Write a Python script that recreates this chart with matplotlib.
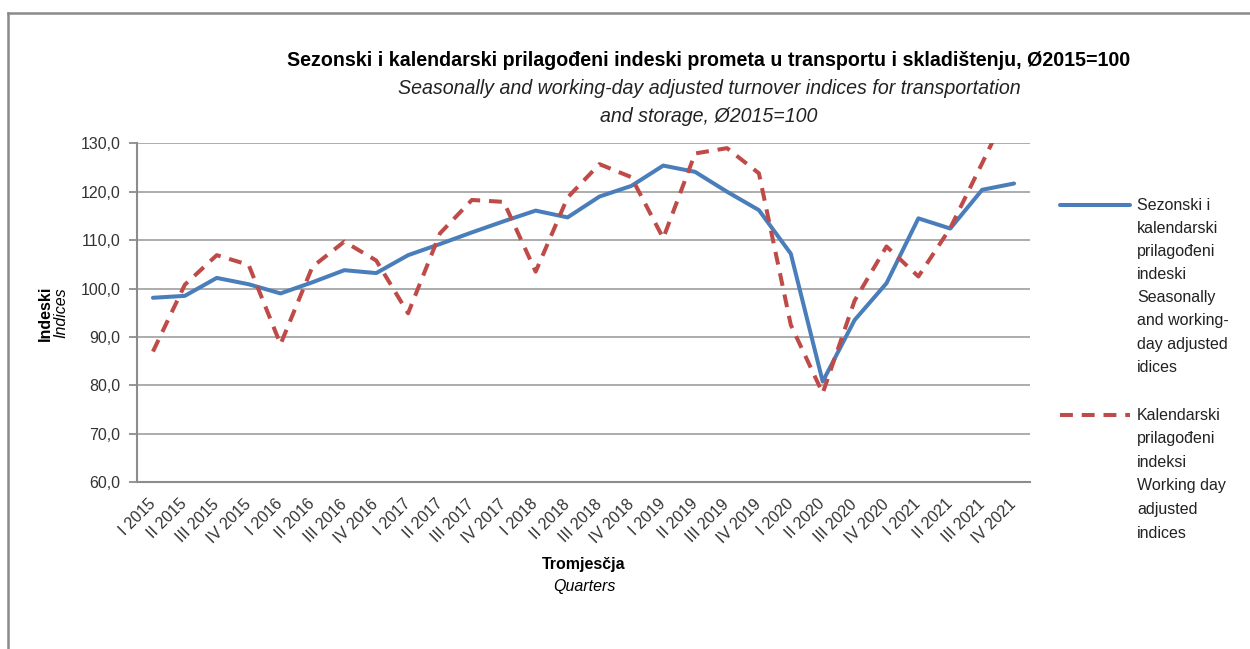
import matplotlib
matplotlib.use("Agg")
import matplotlib.pyplot as plt
from matplotlib.lines import Line2D
from matplotlib import font_manager
import numpy as np

plt.rcParams['font.family'] = ['Liberation Sans', 'DejaVu Sans']

quarters = ["I 2015", "II 2015", "III 2015", "IV 2015",
            "I 2016", "II 2016", "III 2016", "IV 2016",
            "I 2017", "II 2017", "III 2017", "IV 2017",
            "I 2018", "II 2018", "III 2018", "IV 2018",
            "I 2019", "II 2019", "III 2019", "IV 2019",
            "I 2020", "II 2020", "III 2020", "IV 2020",
            "I 2021", "II 2021", "III 2021", "IV 2021"]

seasonal = [98.1, 98.5, 102.2, 100.9,
            99.0, 101.3, 103.8, 103.2,
            106.9, 109.2, 111.6, 113.9,
            116.1, 114.7, 119.0, 121.2,
            125.4, 124.1, 120.0, 116.2,
            107.2, 80.8, 93.5, 101.1,
            114.5, 112.4, 120.4, 121.7]

working_day = [87.0, 100.8, 106.9, 104.9,
               88.5, 104.5, 109.7, 105.8,
               94.9, 111.4, 118.3, 117.9,
               103.5, 118.8, 125.7, 123.0,
               110.4, 127.9, 129.0, 123.8,
               92.5, 78.4, 97.5, 108.7,
               102.5, 112.5, 125.9, 139.5]

yticks = [60, 70, 80, 90, 100, 110, 120, 130]

legend_seasonal = ["Sezonski i", "kalendarski", "prilagođeni", "indeski",
                   "Seasonally", "and working-", "day adjusted", "idices"]
legend_working = ["Kalendarski", "prilagođeni", "indeksi",
                  "Working day", "adjusted", "indices"]

# condensed font if available
try:
    font_manager.findfont(font_manager.FontProperties(family='Liberation Sans Narrow'),
                          fallback_to_default=False)
    narrow = ['Liberation Sans Narrow', 'DejaVu Sans']
    has_narrow = True
except Exception:
    narrow = ['Liberation Sans', 'DejaVu Sans']
    has_narrow = False

title_fs = 17.2 if has_narrow else 14.1
tick_fs = 13.5 if has_narrow else 11.5
lab_fs = 14.0 if has_narrow else 11.5

W, H = 1250, 649
fig = plt.figure(figsize=(W / 100, H / 100), dpi=100)
fig.patch.set_facecolor('white')

ax_l, ax_r, ax_t, ax_b = 137, 1030, 143.3, 482.3
ax = fig.add_axes([ax_l / W, 1 - ax_b / H, (ax_r - ax_l) / W, (ax_b - ax_t) / H])

blue = '#4A7EBB'
red = '#BE4B48'
grid_c = '#A6A6A6'
axis_c = '#8C8C8C'

x = np.arange(len(quarters))
ax.plot(x, seasonal, color=blue, lw=2.9, solid_capstyle='round', solid_joinstyle='round', zorder=3)
ax.plot(x, working_day, color=red, lw=2.9, linestyle=(0, (3.2, 2.2)), dash_capstyle='butt',
        dash_joinstyle='round', zorder=3)

ax.set_xlim(-0.5, len(quarters) - 0.5)
ax.set_ylim(60, 130)
ax.set_yticks(yticks)
ax.set_yticklabels([f"{v:.1f}".replace('.', ',') for v in yticks], fontsize=tick_fs,
                   color='#333333', family=narrow)
ax.yaxis.grid(True, color=grid_c, lw=1.3)
ax.set_axisbelow(True)
ax.set_xticks(x)
ax.set_xticklabels(quarters, rotation=45, ha='right', va='center', rotation_mode='anchor',
                   fontsize=tick_fs, color='#333333', family=narrow)
ax.tick_params(axis='x', length=0, pad=14)
ax.tick_params(axis='y', length=6, width=1.3, color=axis_c, pad=6)
for s in ['top', 'right']:
    ax.spines[s].set_visible(False)
ax.spines['left'].set_color(axis_c)
ax.spines['left'].set_linewidth(1.5)
ax.spines['bottom'].set_color(axis_c)
ax.spines['bottom'].set_linewidth(1.5)

# titles
fig.text(709 / W, 1 - 61 / H, "Sezonski i kalendarski prilagođeni indeski prometa u transportu i skladištenju, Ø2015=100",
         ha='center', va='center', fontsize=title_fs, fontweight='bold', color='black', family=narrow)
fig.text(709 / W, 1 - 88 / H, "Seasonally and working-day adjusted turnover indices for transportation",
         ha='center', va='center', fontsize=title_fs, style='italic', color='#222222', family=narrow)
fig.text(709 / W, 1 - 116 / H, "and storage, Ø2015=100",
         ha='center', va='center', fontsize=title_fs, style='italic', color='#222222', family=narrow)

# axis labels
fig.text(584 / W, 1 - 565 / H, "Tromjesčja", ha='center', va='center', fontsize=lab_fs,
         fontweight='bold', family=narrow)
fig.text(584 / W, 1 - 586 / H, "Quarters", ha='center', va='center', fontsize=lab_fs,
         style='italic', family=narrow)
fig.text(45 / W, 1 - 313 / H, "Indeski", ha='center', va='center', rotation=90, fontsize=lab_fs,
         fontweight='bold', family=narrow)
fig.text(61 / W, 1 - 313 / H, "Indices", ha='center', va='center', rotation=90, fontsize=lab_fs,
         style='italic', family=narrow)

# legend (manual)
fig.add_artist(Line2D([1060 / W, 1130 / W], [1 - 205 / H, 1 - 205 / H], color=blue, lw=2.9,
                      solid_capstyle='round', transform=fig.transFigure))
fig.add_artist(Line2D([1060 / W, 1130 / W], [1 - 415 / H, 1 - 415 / H], color=red, lw=2.9,
                      linestyle=(0, (3.2, 2.2)), transform=fig.transFigure))
for i, t in enumerate(legend_seasonal):
    fig.text(1137 / W, 1 - (205 + 23.2 * i) / H, t, ha='left', va='center', fontsize=11.5, color='#222222')
for i, t in enumerate(legend_working):
    fig.text(1137 / W, 1 - (415 + 23.6 * i) / H, t, ha='left', va='center', fontsize=11.5, color='#222222')

# outer frame (top and left borders)
frame_c = '#8A8A8A'
fig.add_artist(Line2D([7.5 / W, 1.0], [1 - 12.5 / H, 1 - 12.5 / H], color=frame_c, lw=1.8, transform=fig.transFigure))
fig.add_artist(Line2D([7.5 / W, 7.5 / W], [0, 1 - 12.5 / H], color=frame_c, lw=1.8, transform=fig.transFigure))

fig.savefig("out.png", dpi=100, facecolor='white')
